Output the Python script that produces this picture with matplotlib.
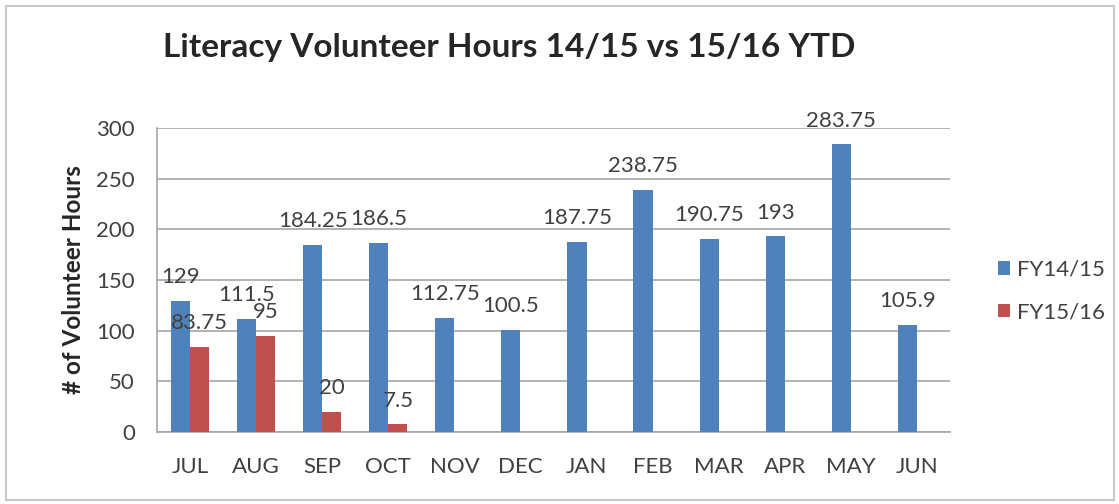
import matplotlib
import matplotlib.pyplot as plt
import numpy as np
from matplotlib.patches import Patch, Rectangle

matplotlib.use("agg")

months = ["JUL", "AUG", "SEP", "OCT", "NOV", "DEC", "JAN", "FEB", "MAR", "APR", "MAY", "JUN"]
fy1415 = [129, 111.5, 184.25, 186.5, 112.75, 100.5, 187.75, 238.75, 190.75, 193, 283.75, 105.9]
fy1516 = [83.75, 95, 20, 7.5]
series_labels = ["FY14/15", "FY15/16"]
y_ticks = [0, 50, 100, 150, 200, 250, 300]

blue = "#4f81bd"
red = "#c0504d"
text_color = "#404040"
grid_color = "#a6a6a6"

plt.rcParams["font.family"] = ["Lato", "DejaVu Sans"]


def fmt(v):
    return f"{v:g}"


fig = plt.figure(figsize=(11.19, 5.04), dpi=100)
ax = fig.add_axes([157 / 1119, 72 / 504, (950 - 157) / 1119, 304 / 504])

bar_width = 0.29
x = np.arange(len(months))
b1 = ax.bar(x - bar_width / 2, fy1415, width=bar_width, color=blue, zorder=3)
x2 = x[: len(fy1516)]
b2 = ax.bar(x2 + bar_width / 2, fy1516, width=bar_width, color=red, zorder=3)

ax.bar_label(b1, labels=[fmt(v) for v in fy1415], padding=10, fontsize=16, color=text_color)
ax.bar_label(b2, labels=[fmt(v) for v in fy1516], padding=10, fontsize=16, color=text_color)

ax.set_xlim(-0.5, len(months) - 0.5)
ax.set_ylim(0, 300)
ax.set_yticks(y_ticks)
ax.set_xticks(x, months)
ax.tick_params(axis="both", length=0, labelsize=16, labelcolor=text_color)
ax.tick_params(axis="x", pad=18)
ax.tick_params(axis="y", pad=16)
ax.grid(axis="y", color=grid_color, linewidth=1.2, zorder=0)
for side in ["top", "right"]:
    ax.spines[side].set_visible(False)
for side in ["left", "bottom"]:
    ax.spines[side].set_color(grid_color)
    ax.spines[side].set_linewidth(1.2)

ax.set_ylabel("# of Volunteer Hours", fontsize=17.5, fontweight="bold", color="#262626")
ax.yaxis.set_label_coords(-72 / 793, 0.5)

fig.text(163 / 1119, 1 - 47 / 504, "Literacy Volunteer Hours 14/15 vs 15/16 YTD",
         fontsize=24, fontweight="bold", color="#262626", ha="left", va="center")

handles = [Patch(facecolor=blue), Patch(facecolor=red)]
fig.legend(
    handles,
    series_labels,
    loc="center left",
    bbox_to_anchor=(978 / 1119, 1 - 291 / 504),
    frameon=False,
    fontsize=16,
    handlelength=0.55,
    handleheight=0.55,
    handletextpad=0.3,
    labelspacing=1.0,
    labelcolor=text_color,
)

fig.patches.append(
    Rectangle((6 / 1119, 4 / 504), 1108 / 1119, 494 / 504, transform=fig.transFigure,
              fill=False, edgecolor="#c8c8c8", linewidth=1.5)
)

fig.savefig("out.png", dpi=100)
plt.close(fig)
